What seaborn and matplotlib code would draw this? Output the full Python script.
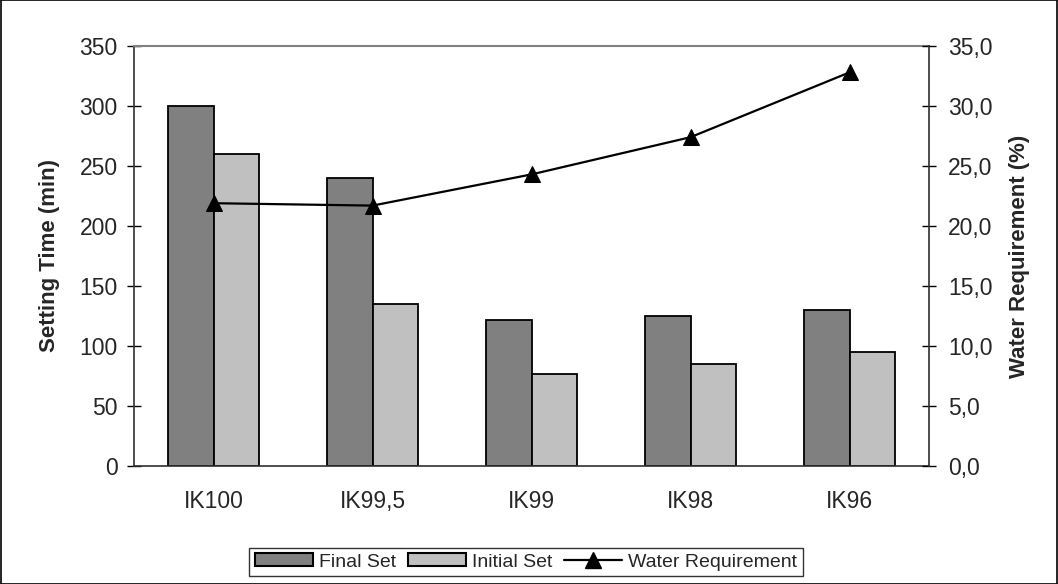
import numpy as np
import pandas as pd
import matplotlib
matplotlib.use("Agg")
import matplotlib.pyplot as plt
import seaborn as sns
from matplotlib.ticker import FuncFormatter, MultipleLocator
from matplotlib.lines import Line2D
from matplotlib.patches import Patch, Rectangle

categories = ["IK100", "IK99,5", "IK99", "IK98", "IK96"]
final_set = [300, 240, 122, 125, 130]
initial_set = [260, 135, 77, 85, 95]
water_req = [21.9, 21.7, 24.3, 27.4, 32.8]

sns.set_theme(style="white")
plt.rcParams["font.family"] = ["Liberation Sans", "DejaVu Sans"]

df = pd.DataFrame({
    "Category": categories * 2,
    "Value": final_set + initial_set,
    "Series": ["Final Set"] * len(categories) + ["Initial Set"] * len(categories),
})

TICK_FS = 16.5
LABEL_FS = 16

fig = plt.figure(figsize=(10.58, 5.84), dpi=100)
ax = fig.add_axes([134 / 1058, 1 - 466 / 584, (929 - 134) / 1058, (466 - 46) / 584])

sns.barplot(data=df, x="Category", y="Value", hue="Series", order=categories,
            hue_order=["Final Set", "Initial Set"],
            palette=["#808080", "#C0C0C0"], width=0.572, dodge=True,
            edgecolor="black", linewidth=1.3, saturation=1, legend=False, ax=ax, errorbar=None)

ax.set_xlim(-0.5, len(categories) - 0.5)
ax.set_ylim(0, 350)
ax.yaxis.set_major_locator(MultipleLocator(50))
ax.set_xlabel("")
ax.set_ylabel("Setting Time (min)", fontsize=LABEL_FS, fontweight="bold", labelpad=14)

ax.set_xticks(np.arange(len(categories)))
ax.set_xticklabels(categories, fontsize=TICK_FS)
ax.set_xticks(np.arange(-0.5, len(categories) + 0.5, 1), minor=True)
ax.tick_params(axis="x", which="major", length=0, pad=17)
ax.tick_params(axis="x", which="minor", direction="inout", length=9.6, width=1, color="black")
ax.tick_params(axis="y", direction="inout", length=9.6, width=1, color="black",
               labelsize=TICK_FS, pad=7, left=True)

ax2 = ax.twinx()
sns.lineplot(x=np.arange(len(categories)), y=water_req, ax=ax2, color="black",
             linewidth=1.6, marker="^", markersize=11, markeredgecolor="black", legend=False)
ax2.set_ylim(0, 35)
ax2.set_xlim(-0.5, len(categories) - 0.5)
ax2.yaxis.set_major_locator(MultipleLocator(5))
ax2.yaxis.set_major_formatter(FuncFormatter(lambda v, p: f"{v:.1f}".replace(".", ",")))
ax2.tick_params(axis="y", direction="inout", length=9.6, width=1, color="black",
                labelsize=TICK_FS, pad=9, right=True)
ax2.set_ylabel("Water Requirement (%)", fontsize=LABEL_FS, fontweight="bold", labelpad=12)

for a in (ax, ax2):
    for s in a.spines.values():
        s.set_visible(False)
ax.spines["top"].set_visible(True)
ax.spines["top"].set_color("#808080")
ax.spines["top"].set_linewidth(1.5)
for name in ("left", "bottom"):
    ax.spines[name].set_visible(True)
    ax.spines[name].set_color("#303030")
    ax.spines[name].set_linewidth(1.2)
ax2.spines["right"].set_visible(True)
ax2.spines["right"].set_color("#303030")
ax2.spines["right"].set_linewidth(1.2)

handles = [
    Patch(facecolor="#808080", edgecolor="black", linewidth=1.5),
    Patch(facecolor="#C0C0C0", edgecolor="black", linewidth=1.5),
    Line2D([0], [0], color="black", linewidth=1.6, marker="^", markersize=11),
]
leg = fig.legend(handles, ["Final Set", "Initial Set", "Water Requirement"],
                 loc="center", bbox_to_anchor=(526 / 1058, 1 - 562 / 584), ncol=3,
                 fontsize=14, frameon=True, fancybox=False, handlelength=3.0,
                 handleheight=0.6, handletextpad=0.3, columnspacing=0.6,
                 borderpad=0.3, borderaxespad=0)
leg.get_frame().set_edgecolor("black")
leg.get_frame().set_linewidth(1.0)

fig.patches.append(Rectangle((0.0005, 0.0008), 0.999, 0.9985, transform=fig.transFigure,
                             fill=False, edgecolor="black", linewidth=1.2))

fig.savefig("out.png", dpi=100)
